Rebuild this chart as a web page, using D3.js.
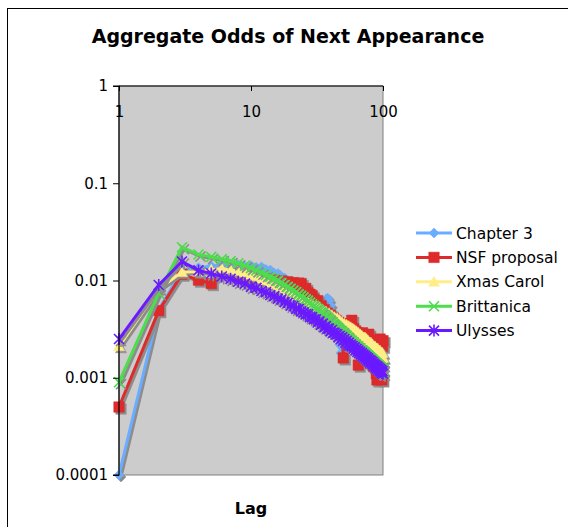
<!DOCTYPE html>
<html><head><meta charset="utf-8">
<script src="https://cdn.jsdelivr.net/npm/d3@7"></script>
<style>
html,body{margin:0;padding:0;background:#fff;}
svg{display:block;}
text{font-family:"DejaVu Sans",Verdana,sans-serif;fill:#000;}
</style></head>
<body>
<svg id="chart" width="568" height="527"></svg>
<script>
const title = "Aggregate Odds of Next Appearance";
const xTitle = "Lag";
const seriesNames = ["Chapter 3", "NSF proposal", "Xmas Carol", "Brittanica", "Ulysses"];
const xTickValues = [1, 10, 100];
const xTickLabels = ["1", "10", "100"];
const yTickValues = [1, 0.1, 0.01, 0.001, 0.0001];
const yTickLabels = ["1", "0.1", "0.01", "0.001", "0.0001"];

const lags = [1,2,3,4,5,6,7,8,9,10,11,12,13,14,15,16,17,18,19,20,
21,22,23,24,25,26,27,28,29,30,31,32,33,34,35,36,37,38,39,40,
41,42,43,44,45,46,47,48,49,50,51,52,53,54,55,56,57,58,59,60,
61,62,63,64,65,66,67,68,69,70,71,72,73,74,75,76,77,78,79,80,
81,82,83,84,85,86,87,88,89,90,91,92,93,94,95,96,97,98,99,100];

const chapter3 = [0.0001,0.0050,0.0128,0.0135,0.0140,0.0145,0.0141,0.0145,0.0139,0.0142,
0.0136,0.0138,0.0130,0.0128,0.0119,0.0118,0.0110,0.0106,0.0100,0.0093,
0.0090,0.0085,0.0082,0.0078,0.0074,0.0072,0.0068,0.0066,0.0062,0.0060,
0.0058,0.0056,0.0053,0.0052,0.0055,0.0060,0.0064,0.0066,0.0062,0.0055,
0.0048,0.0042,0.0036,0.0033,0.0029,0.0026,0.0022,0.0018,0.0022,0.0025,
0.0026,0.0025,0.0025,0.0024,0.0024,0.0023,0.0023,0.0022,0.0022,0.0021,
0.0021,0.0020,0.0020,0.0019,0.0019,0.0019,0.0018,0.0018,0.0018,0.0017,
0.0017,0.0017,0.0016,0.0016,0.0016,0.0016,0.0015,0.0015,0.0015,0.0015,
0.0014,0.0014,0.0014,0.0014,0.0014,0.0013,0.0013,0.0013,0.0013,0.0013,
0.0013,0.0012,0.0012,0.0012,0.0012,0.0012,0.0012,0.0011,0.0011,0.0011];

const nsfProposal = [0.0005,0.0049,0.0116,0.0101,0.0093,0.0118,0.0113,0.0110,0.0112,0.0106,
0.0108,0.0102,0.0104,0.0098,0.0101,0.0096,0.0099,0.0094,0.0097,0.0092,
0.0095,0.0090,0.0094,0.0093,0.0080,0.0083,0.0075,0.0072,0.0070,0.0064,
0.0060,0.0062,0.0052,0.0055,0.0047,0.0050,0.0044,0.0046,0.0040,0.0044,
0.0038,0.0041,0.0035,0.0039,0.0032,0.0037,0.0030,0.0036,0.0028,0.0016,
0.0034,0.0027,0.0033,0.0025,0.0036,0.0031,0.0026,0.0039,0.0024,0.0032,
0.0022,0.0030,0.0021,0.0029,0.00135,0.0028,0.0020,0.0027,0.0019,0.0029,
0.0018,0.0026,0.0017,0.0025,0.0016,0.0024,0.0016,0.0028,0.0015,0.0023,
0.0014,0.0022,0.0015,0.0024,0.0013,0.0021,0.0013,0.0020,0.0011,0.00095,
0.0020,0.0012,0.0019,0.0011,0.0025,0.0010,0.0022,0.00095,0.0021,0.0024];

const xmasCarol = [0.0021,0.0082,0.0122,0.0123,0.0129,0.0133,0.0129,0.0124,0.0121,0.0114,
0.0110,0.0104,0.0100,0.0095,0.0092,0.0087,0.0085,0.0080,0.0078,0.0073,
0.0073,0.0068,0.0067,0.0063,0.0063,0.0059,0.0060,0.0056,0.0057,0.0053,
0.0055,0.0051,0.0053,0.0048,0.0050,0.0046,0.0048,0.0044,0.0046,0.0042,
0.0044,0.0040,0.0042,0.0039,0.0041,0.0037,0.0039,0.0035,0.0037,0.0034,
0.0036,0.0033,0.0035,0.0031,0.0034,0.0030,0.0033,0.0029,0.0032,0.0029,
0.0031,0.0028,0.0030,0.0027,0.0029,0.0026,0.0028,0.0025,0.0027,0.0025,
0.0026,0.0024,0.0026,0.0023,0.0025,0.0022,0.0024,0.0022,0.0023,0.0021,
0.0023,0.0020,0.0022,0.0020,0.0021,0.0019,0.0021,0.0019,0.0020,0.0018,
0.0020,0.0017,0.0019,0.0017,0.0019,0.0016,0.0018,0.0016,0.0018,0.0016];

const brittanica = [0.0009,0.0074,0.0220,0.0185,0.0175,0.0166,0.0158,0.0150,0.0142,0.0134,
0.0127,0.0120,0.0114,0.0109,0.0104,0.0099,0.0094,0.0090,0.0086,0.0082,
0.0079,0.0076,0.0072,0.0070,0.0067,0.0064,0.0062,0.0059,0.0057,0.0055,
0.0053,0.0051,0.0049,0.0047,0.0046,0.0044,0.0043,0.0041,0.0040,0.0039,
0.0037,0.0036,0.0035,0.0034,0.0033,0.0032,0.0031,0.0030,0.0030,0.0029,
0.0028,0.0027,0.0027,0.0026,0.0025,0.0025,0.0024,0.0024,0.0023,0.0023,
0.0022,0.0022,0.0021,0.0021,0.0021,0.0020,0.0020,0.0019,0.0019,0.0019,
0.00186,0.00183,0.0018,0.00177,0.00174,0.00171,0.00168,0.00165,0.00163,0.0016,
0.00158,0.00155,0.00153,0.0015,0.00148,0.00146,0.00144,0.00142,0.0014,0.00138,
0.00136,0.00134,0.00132,0.0013,0.00129,0.00127,0.00125,0.00124,0.00122,0.00121];

const ulysses = [0.0025,0.0090,0.0157,0.0127,0.0118,0.0110,0.0104,0.0097,0.0093,0.0086,
0.0084,0.0078,0.0076,0.0071,0.0069,0.0065,0.0064,0.0060,0.0059,0.0055,
0.0055,0.0051,0.0051,0.0048,0.0047,0.0045,0.0045,0.0042,0.0042,0.0040,
0.0040,0.0037,0.0038,0.0035,0.0036,0.0033,0.0034,0.0032,0.0032,0.0030,
0.0031,0.0029,0.0029,0.0028,0.0028,0.0026,0.0027,0.0025,0.0026,0.0024,
0.0025,0.0023,0.0024,0.0022,0.0023,0.00215,0.0022,0.0021,0.00212,0.0020,
0.00205,0.00192,0.00198,0.00185,0.00191,0.0018,0.00185,0.00174,0.00179,0.00168,
0.00173,0.00162,0.00168,0.00157,0.00163,0.00152,0.00158,0.00148,0.00153,0.00144,
0.00149,0.0014,0.00145,0.00136,0.0014,0.00132,0.00136,0.00128,0.00133,0.00125,
0.0013,0.00121,0.00126,0.00118,0.00123,0.00115,0.0012,0.00112,0.00117,0.0011];

const seriesValues = [chapter3, nsfProposal, xmasCarol, brittanica, ulysses];
const colors = ["#6aacff", "#dd2a2a", "#ffee88", "#4ddd4d", "#6a1aff"];
const markerTypes = ["diamond", "square", "triangle", "x", "asterisk"];

const svg = d3.select("#chart");
const plot = {left: 119, right: 383, top: 86, bottom: 475};

// outer chart frame
svg.append("rect").attr("x", 7.5).attr("y", 8.5).attr("width", 600).attr("height", 600)
  .attr("fill", "#fff").attr("stroke", "#000").attr("stroke-width", 1);

svg.append("text").attr("x", 288).attr("y", 43).attr("text-anchor", "middle")
  .style("font-weight", "bold").style("font-size", "19px").text(title);

const x = d3.scaleLog().domain([1, 100]).range([plot.left, plot.right]);
const y = d3.scaleLog().domain([0.0001, 1]).range([plot.bottom, plot.top]);

// plot area
svg.append("rect").attr("x", plot.left).attr("y", plot.top)
  .attr("width", plot.right - plot.left).attr("height", plot.bottom - plot.top)
  .attr("fill", "#cccccc").attr("stroke", "#808080").attr("stroke-width", 1);

function markerPath(type, s) {
  const h = s / 2;
  switch (type) {
    case "diamond": return `M0,${-h}L${h},0L0,${h}L${-h},0Z`;
    case "square": return `M${-h},${-h}H${h}V${h}H${-h}Z`;
    case "triangle": return `M0,${-h}L${h},${h*0.8}L${-h},${h*0.8}Z`;
    case "x": return `M${-h},${-h}L${h},${h}M${-h},${h}L${h},${-h}`;
    case "asterisk": return `M${-h},${-h}L${h},${h}M${-h},${h}L${h},${-h}M0,${-h-1}V${h+1}`;
  }
}
const markerSize = [10, 10.5, 11, 10, 10];
const filled = {diamond: true, square: true, triangle: true, x: false, asterisk: false};

const line = d3.line().x(d => x(d[0])).y(d => y(d[1]));

const dataGroup = svg.append("g");
seriesValues.forEach((vals, i) => {
  const pts = lags.map((l, j) => [l, vals[j]]);
  const type = markerTypes[i];
  const layers = [{dx: 2, dy: 2, col: "#8c8c8c"}, {dx: 0, dy: 0, col: colors[i]}];
  layers.forEach(L => {
    const g = dataGroup.append("g").attr("transform", `translate(${L.dx},${L.dy})`);
    g.append("path").datum(pts).attr("d", line).attr("fill", "none")
      .attr("stroke", L.col).attr("stroke-width", 3).attr("stroke-linejoin", "round");
    g.selectAll("path.m").data(pts).join("path").attr("class", "m")
      .attr("transform", d => `translate(${x(d[0])},${y(d[1])})`)
      .attr("d", markerPath(type, markerSize[i]))
      .attr("fill", filled[type] ? L.col : "none")
      .attr("stroke", L.col).attr("stroke-width", filled[type] ? 0.5 : 1.6);
  });
});

// axes
const yAxis = d3.axisLeft(y).tickValues(yTickValues)
  .tickFormat((d, i) => yTickLabels[i]).tickSize(6).tickPadding(5);
const gy = svg.append("g").attr("transform", `translate(${plot.left},0)`).call(yAxis);
const xAxis = d3.axisBottom(x).tickValues(xTickValues)
  .tickFormat((d, i) => xTickLabels[i]).tickSize(5).tickPadding(15);
const gx = svg.append("g").attr("transform", `translate(0,${plot.top})`).call(xAxis);
[gx, gy].forEach(g => {
  g.select(".domain").attr("stroke", "#000").attr("stroke-width", 1.2);
  g.selectAll(".tick line").attr("stroke", "#000");
  g.selectAll(".tick text").style("font-size", "15px")
    .style("font-family", '"DejaVu Sans",Verdana,sans-serif').attr("fill", "#000");
});
gy.select(".domain").attr("d", `M-6,${plot.top}H0V${plot.bottom}H-6`);
gx.select(".domain").attr("d", `M${plot.left},0H${plot.right}`);

svg.append("text").attr("x", (plot.left + plot.right) / 2).attr("y", 514)
  .attr("text-anchor", "middle").style("font-weight", "bold").style("font-size", "16px").text(xTitle);

// legend
const legend = svg.append("g");
seriesNames.forEach((name, i) => {
  const ly = 233 + i * 24.4;
  legend.append("line").attr("x1", 416).attr("x2", 452).attr("y1", ly).attr("y2", ly)
    .attr("stroke", colors[i]).attr("stroke-width", 3);
  legend.append("path").attr("transform", `translate(434,${ly})`)
    .attr("d", markerPath(markerTypes[i], markerSize[i]))
    .attr("fill", filled[markerTypes[i]] ? colors[i] : "none")
    .attr("stroke", colors[i]).attr("stroke-width", filled[markerTypes[i]] ? 0.5 : 1.6);
  legend.append("text").attr("x", 456).attr("y", ly).attr("dy", "0.36em")
    .style("font-size", "15.5px").text(name);
});
</script>
</body></html>
